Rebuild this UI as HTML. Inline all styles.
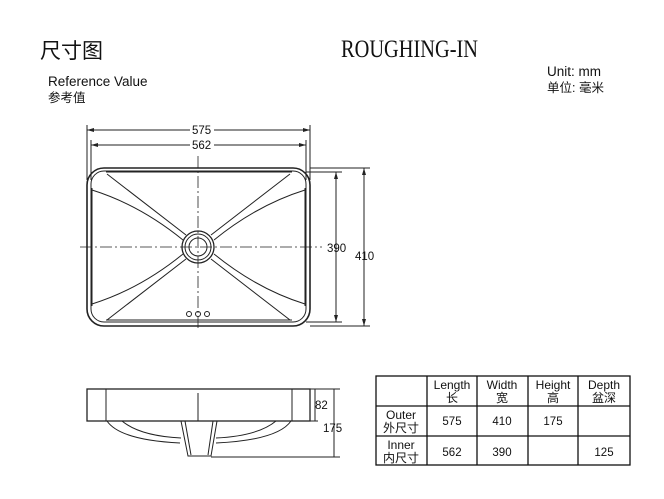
<!DOCTYPE html>
<html><head><meta charset="utf-8"><style>
html,body{margin:0;padding:0;background:#fff}
svg{display:block}
text{font-family:"Liberation Sans","Noto Sans CJK SC",sans-serif;fill:#111}
</style></head><body>
<svg width="664" height="499" viewBox="0 0 664 499" xmlns="http://www.w3.org/2000/svg">
<text x="40" y="58" font-size="21" style="font-family:'Noto Sans CJK SC',sans-serif">尺寸图</text>
<text x="341" y="57" font-size="25" textLength="137" lengthAdjust="spacingAndGlyphs" style="font-family:'Liberation Serif',serif">ROUGHING-IN</text>
<text x="48" y="86" font-size="13.5">Reference Value</text>
<text x="48" y="102" font-size="12.5">参考值</text>
<text x="547" y="76" font-size="13.5">Unit: mm</text>
<text x="547" y="92" font-size="12.5">单位: 毫米</text>

<g stroke="#222" fill="none" stroke-width="1">
<!-- dims top -->
<line x1="87" y1="125" x2="87" y2="180"/><line x1="310" y1="125" x2="310" y2="180"/>
<line x1="87" y1="130" x2="190" y2="130"/><line x1="214" y1="130" x2="310" y2="130"/>
<line x1="91" y1="140" x2="91" y2="180"/><line x1="306" y1="140" x2="306" y2="180"/>
<line x1="91" y1="145" x2="190" y2="145"/><line x1="214" y1="145" x2="306" y2="145"/>
<line x1="306" y1="172" x2="342" y2="172"/><line x1="306" y1="322" x2="342" y2="322"/>
<line x1="336" y1="172" x2="336" y2="322"/>
<line x1="310" y1="168" x2="370" y2="168"/><line x1="310" y1="326" x2="370" y2="326"/>
<line x1="364" y1="168" x2="364" y2="326"/>
<!-- outer -->
<rect x="87" y="168" width="223" height="158" rx="17" stroke-width="1.6"/>
<rect x="91" y="171" width="215" height="151" rx="13"/>
<line x1="106" y1="172" x2="292" y2="172"/><line x1="106" y1="320" x2="292" y2="320"/>
<line x1="92" y1="188" x2="92" y2="306"/><line x1="305" y1="188" x2="305" y2="306"/>
<!-- ribs -->
<path d="M107 174 L186 235 M92 190 Q140 205 183 240"/>
<path d="M290 174 L211 235 M305 190 Q257 205 214 240"/>
<path d="M107 320 L186 259 M92 304 Q140 289 183 254"/>
<path d="M290 320 L211 259 M305 304 Q257 289 214 254"/>
<!-- drain -->
<circle cx="198" cy="247" r="16" fill="#fff" stroke-width="1.3"/>
<circle cx="198" cy="247" r="13"/>
<circle cx="198" cy="247" r="9"/>
<circle cx="189" cy="314" r="2.5"/><circle cx="198" cy="314" r="2.5"/><circle cx="207" cy="314" r="2.5"/>
<!-- center lines -->
<line x1="198" y1="156" x2="198" y2="330" stroke-dasharray="12,3,2,3" stroke-width="0.8"/>
<line x1="80" y1="247" x2="322" y2="247" stroke-dasharray="12,3,2,3" stroke-width="0.8"/>
<!-- side view -->
<rect x="87" y="389" width="223" height="32" stroke-width="1.3"/>
<line x1="106" y1="389" x2="106" y2="421"/><line x1="292" y1="389" x2="292" y2="421"/>
<line x1="198" y1="393" x2="198" y2="421"/>
<path d="M107 421 Q120 440 180 443"/><path d="M291 421 Q278 440 216 443"/>
<path d="M122 421 Q140 436 181 438"/><path d="M276 421 Q258 436 216 438"/>
<path d="M181 421 L188 456 L211 456 L217 421"/>
<path d="M185 421 L191 455 M213 421 L208 455"/>
<line x1="310" y1="389" x2="340" y2="389"/><line x1="310" y1="421" x2="318" y2="421"/>
<line x1="211" y1="457" x2="340" y2="457"/>
<line x1="315" y1="389" x2="315" y2="421"/><line x1="334" y1="389" x2="334" y2="457"/>
</g>
<g fill="#222">
<polygon points="87,130 94,128 94,132"/><polygon points="310,130 303,128 303,132"/>
<polygon points="91,145 98,143 98,147"/><polygon points="306,145 299,143 299,147"/>
<polygon points="336,172 334,179 338,179"/><polygon points="336,322 334,315 338,315"/>
<polygon points="364,168 362,175 366,175"/><polygon points="364,326 362,319 366,319"/>
</g>
<g font-size="11.5">
<text x="192" y="134">575</text><text x="192" y="149">562</text>
<text x="327" y="252">390</text><text x="355" y="260">410</text>
<text x="315" y="409">82</text><text x="323" y="432">175</text>
</g>
<!-- table -->
<g stroke="#111" stroke-width="1.3" fill="none">
<rect x="376" y="376" width="254" height="89"/>
<line x1="427" y1="376" x2="427" y2="465"/><line x1="477" y1="376" x2="477" y2="465"/>
<line x1="528" y1="376" x2="528" y2="465"/><line x1="578" y1="376" x2="578" y2="465"/>
<line x1="376" y1="406" x2="630" y2="406"/><line x1="376" y1="436" x2="630" y2="436"/>
</g>
<g font-size="12" text-anchor="middle">
<text x="452" y="389">Length</text><text x="452" y="402">长</text>
<text x="502" y="389">Width</text><text x="502" y="402">宽</text>
<text x="553" y="389">Height</text><text x="553" y="402">高</text>
<text x="604" y="389">Depth</text><text x="604" y="402">盆深</text>
<text x="401" y="419">Outer</text><text x="401" y="432">外尺寸</text>
<text x="401" y="449">Inner</text><text x="401" y="462">内尺寸</text>
</g>
<g font-size="11.5" text-anchor="middle">
<text x="452" y="425">575</text><text x="502" y="425">410</text><text x="553" y="425">175</text>
<text x="452" y="456">562</text><text x="502" y="456">390</text><text x="604" y="456">125</text>
</g>
</svg>
</body></html>
